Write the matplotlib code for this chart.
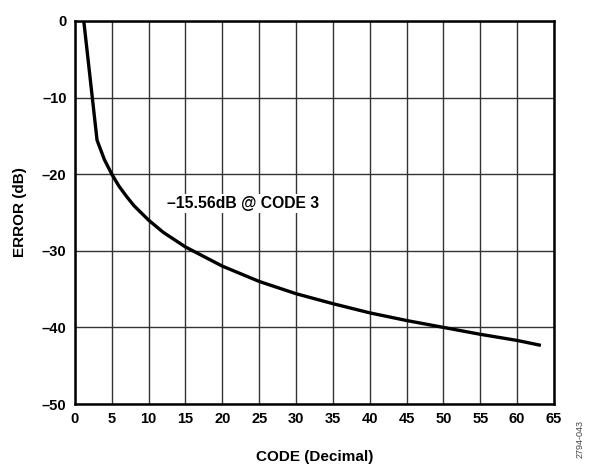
import numpy as np
import matplotlib.pyplot as plt
from matplotlib.ticker import FuncFormatter

plt.rcParams['font.family'] = ['Liberation Sans', 'DejaVu Sans']
plt.rcParams['font.weight'] = 'bold'

# data
code = [1.2, 3, 4, 5, 6, 7, 8, 10, 12, 15, 20, 25, 30, 35, 40, 45, 50, 55, 60, 63]
error_db = [0, -15.56, -18.1, -20.0, -21.6, -22.9, -24.1, -26.0, -27.6, -29.5,
            -32.0, -34.0, -35.6, -36.9, -38.1, -39.1, -40.0, -40.9, -41.7, -42.3]

x_ticks = np.arange(0, 66, 5)
y_ticks = np.arange(-50, 1, 10)

fig = plt.figure(figsize=(5.9, 4.66), dpi=100)
ax = fig.add_axes([0.127, 0.133, 0.812, 0.822])

ax.plot(code, error_db, color='black', linewidth=2.4, zorder=3)

ax.set_xlim(0, 65)
ax.set_ylim(-50, 0)
ax.set_xticks(x_ticks)
ax.set_yticks(y_ticks)
ax.grid(True, color='#333333', linewidth=1.0)
ax.tick_params(length=0, labelsize=10.5, pad=6)

dash = FuncFormatter(lambda v, p: ('%d' % v).replace('-', '\u2013'))
ax.yaxis.set_major_formatter(dash)

for s in ax.spines.values():
    s.set_linewidth(1.8)

ax.text(22.8, -23.8, '\u201315.56dB @ CODE 3', fontsize=11.3, fontweight='bold',
        ha='center', va='center', zorder=4,
        bbox=dict(facecolor='white', edgecolor='none', pad=1.5))

ax.set_xlabel('CODE (Decimal)', fontsize=11, fontweight='bold', labelpad=17)
ax.set_ylabel('ERROR (dB)', fontsize=11, fontweight='bold', labelpad=11)

fig.text(0.983, 0.058, '2794-043', rotation=90, fontsize=6.5, fontweight='normal',
         color='#444444', ha='center', va='center')

fig.savefig('out.png', dpi=100)
